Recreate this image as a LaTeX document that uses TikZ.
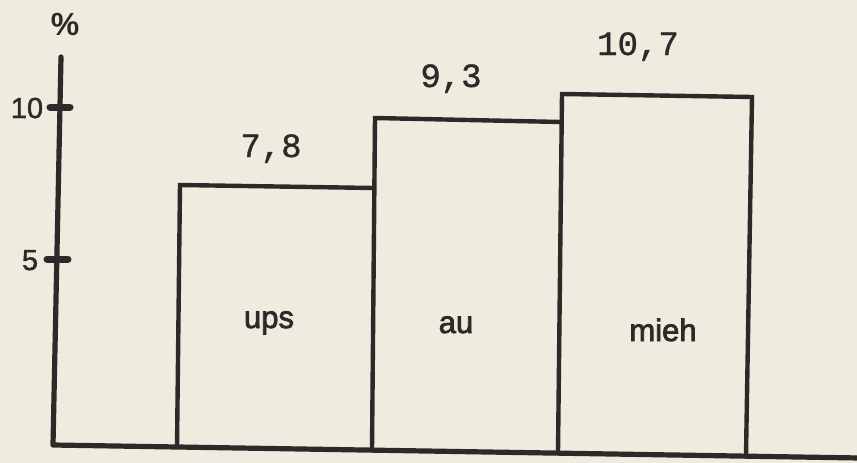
\documentclass[tikz,border=0pt]{standalone}
\usepackage{fontspec}
\setmainfont{Liberation Sans}
\newfontfamily\heavyfont[FakeBold=2.5]{Liberation Sans}
\newfontfamily\midfont[FakeBold=1.5]{Liberation Sans}
\newfontfamily\valfont[FakeBold=1]{Liberation Mono}
\definecolor{paper}{RGB}{239,235,223}
\definecolor{ink}{RGB}{45,41,40}
\begin{document}
\begin{tikzpicture}[x=1pt,y=-1pt,
  barline/.style={draw=ink,line width=4.4pt,line join=miter},
  axisline/.style={draw=ink,line width=5.2pt,line cap=round,line join=round},
  tickmark/.style={draw=ink,line width=7pt,line cap=round},
  ticklabel/.style={text=ink,font=\midfont\fontsize{29}{29}\selectfont,inner sep=0pt,anchor=base},
  unitlabel/.style={text=ink,font=\bfseries\fontsize{32}{32}\selectfont,inner sep=0pt,anchor=base},
  vallabel/.style={text=ink,font=\valfont\fontsize{34}{34}\selectfont,inner sep=0pt,anchor=base},
  catlabel/.style={text=ink,font=\heavyfont\fontsize{31}{31}\selectfont,inner sep=0pt,anchor=base}]
\fill[paper] (0,0) rectangle (857,463);
\useasboundingbox (0,0) rectangle (857,463);
% axes
\coordinate (top) at (61,57);
\coordinate (origin) at (53,445);
\coordinate (far) at (860,458);
\draw[axisline] (top) -- (origin) -- (far);
\coordinate (t10a) at (50,107);
\coordinate (t10b) at (70,107);
\coordinate (t5a) at (47,259);
\coordinate (t5b) at (68,259);
\draw[tickmark] (t10a) -- (t10b);
\draw[tickmark] (t5a) -- (t5b);
% bars
\coordinate (b1a) at (177,447);
\coordinate (b1b) at (180,185);
\coordinate (b1c) at (374,188);
\coordinate (b2a) at (372,449);
\coordinate (b2b) at (375,118);
\coordinate (b2c) at (561,122);
\coordinate (b3a) at (558,452);
\coordinate (b3b) at (562,94);
\coordinate (b3c) at (752,97);
\coordinate (b3d) at (746,455);
\draw[barline] (b1a) -- (b1b) -- (b1c);
\draw[barline] (b2a) -- (b2b) -- (b2c);
\draw[barline] (b3a) -- (b3b) -- (b3c) -- (b3d);
% labels
\node[unitlabel] (pct) at (65,35) {\%};
\node[ticklabel] (l10) at (27,118) {10};
\node[ticklabel] (l5) at (30,270) {5};
\node[vallabel] (v1) at (271,157) {7,8};
\node[vallabel] (v2) at (451,87) {9,3};
\node[vallabel] (v3) at (638,55) {10,7};
\node[catlabel] (c1) at (269,328) {ups};
\node[catlabel] (c2) at (456,333) {au};
\node[catlabel] (c3) at (663,341) {mieh};
\end{tikzpicture}
\end{document}
